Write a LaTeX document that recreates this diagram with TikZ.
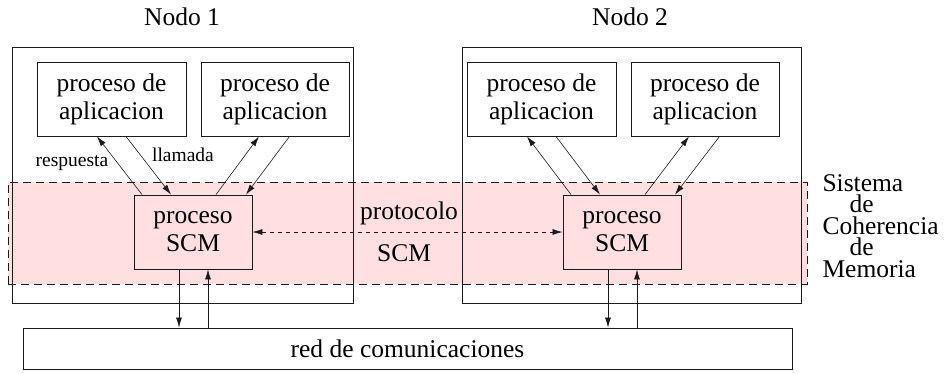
\documentclass[tikz,border=0pt]{standalone}
\usepackage{fontspec}
\setmainfont{Liberation Serif}
\usetikzlibrary{calc,arrows.meta}
\definecolor{scmbg}{HTML}{FFDFE0}
\definecolor{edge}{HTML}{1A1A1A}
\tikzset{
  box/.style={draw=edge, line width=0.9pt, inner sep=0pt, align=center, font=\fontsize{25.5}{28}\selectfont},
  proc/.style={box, minimum width=148pt, minimum height=74pt},
  scm/.style={box, minimum width=118pt, minimum height=74pt},
  nodo/.style={draw=edge, line width=0.9pt, minimum width=340pt, minimum height=256pt, inner sep=0pt},
  band/.style={draw=edge, dash pattern=on 8pt off 5pt, fill=scmbg, line width=0.9pt, inner sep=0pt},
  link/.style={draw=edge, line width=0.6pt, -{Latex[length=10pt,width=6pt]}},
  proto/.style={draw=edge, line width=0.6pt, dash pattern=on 4pt off 4pt, {Latex[length=10pt,width=6pt]}-{Latex[length=10pt,width=6pt]}},
  lab/.style={font=\fontsize{25.5}{28}\selectfont},
  labs/.style={font=\fontsize{19.5}{22}\selectfont},
}
\begin{document}
\begin{tikzpicture}[x=1pt, y=-1pt]
  \useasboundingbox (0,0) rectangle (945,373);
  % sistema de coherencia
  \node[band, minimum width=799pt, minimum height=102pt] (sis) at (407.5,233) {};
  % nodos
  \node[nodo, minimum width=341pt] (nodo1) at (182.5,175) {};
  \node[nodo, minimum width=339pt] (nodo2) at (631.5,175) {};
  \node[lab] (tnodo1) at (182,17) {Nodo 1};
  \node[lab] (tnodo2) at (630,17) {Nodo 2};
  \node[proc, minimum width=149pt] (app1) at (111.5,99) {proceso de\\aplicacion};
  \node[proc] (app2) at (275,99) {proceso de\\aplicacion};
  \node[proc, minimum width=149pt] (app3) at (541.5,99) {proceso de\\aplicacion};
  \node[proc] (app4) at (705,99) {proceso de\\aplicacion};
  \node[scm] (scm1) at (193,232) {proceso\\SCM};
  \node[scm] (scm2) at (622,232) {proceso\\SCM};
  \node[box, minimum width=769pt, minimum height=41pt] (red) at (407.5,348.5) {red de comunicaciones};
  % flechas
  \foreach \s/\a/\b in {scm1/app1/app2, scm2/app3/app4} {
    \draw[link] ([xshift=-51pt]\s.north) -- ([xshift=-14.5pt]\a.south);
    \draw[link] ([xshift=14.5pt]\a.south) -- ([xshift=-22pt]\s.north);
    \draw[link] ([xshift=23pt]\s.north) -- ([xshift=-16pt]\b.south);
    \draw[link] ([xshift=14.5pt]\b.south) -- ([xshift=53pt]\s.north);
    \draw[link] ([xshift=-14pt]\s.south) -- ([xshift=-14pt]\s.south |- red.north);
    \draw[link] ([xshift=15pt]\s.south |- red.north) -- ([xshift=15pt]\s.south);
  }
  \draw[proto] (scm1) -- (scm2);
  \node[labs] (resp) at (72,163) {respuesta};
  \node[labs] (llam) at (183,155) {llamada};
  \node[lab] (tproto) at (409,213) {protocolo};
  \node[lab] (tscm) at (404,253) {SCM};
  \node[lab, align=left, anchor=west, font=\fontsize{25.5}{21.5}\selectfont] (tsis) at (819,226)
    {Sistema\\\hspace*{27pt}de\\Coherencia\\\hspace*{27pt}de\\Memoria};
\end{tikzpicture}
\end{document}
